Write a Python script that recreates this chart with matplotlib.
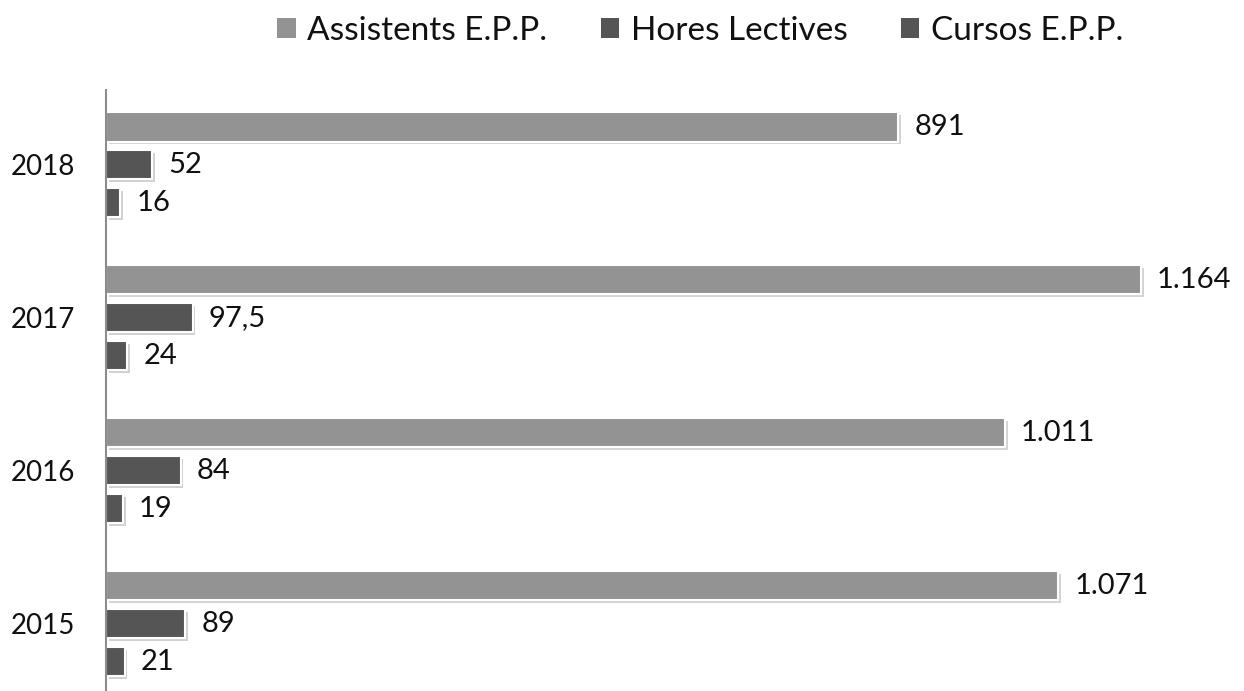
import numpy as np
import matplotlib.pyplot as plt
import matplotlib.patheffects as pe

# Dades del gràfic
anys = ['2015', '2016', '2017', '2018']
assistents = [1071, 1011, 1164, 891]
hores = [89, 84, 97.5, 52]
cursos = [21, 19, 24, 16]

etiquetes_assistents = ['1.071', '1.011', '1.164', '891']
etiquetes_hores = ['89', '84', '97,5', '52']
etiquetes_cursos = ['21', '19', '24', '16']

plt.rcParams['font.family'] = ['Lato', 'DejaVu Sans']

fig = plt.figure(figsize=(12.44, 6.91), dpi=100)
ax = fig.add_axes([106 / 1244, 0.0, 1 - 106 / 1244, 1 - 90 / 691])

y = np.arange(len(anys))
h = 0.19
d = 0.248
ombra = [pe.SimplePatchShadow(offset=(2, -2), alpha=0.2), pe.Normal()]

series = [
    (assistents, etiquetes_assistents, '#939393', y + d, 'Assistents E.P.P.'),
    (hores, etiquetes_hores, '#555555', y, 'Hores Lectives'),
    (cursos, etiquetes_cursos, '#555555', y - d, 'Cursos E.P.P.'),
]

for vals, labels, color, pos, nom in series:
    bars = ax.barh(pos, vals, height=h, color=color, edgecolor='white',
                   linewidth=1.5, label=nom)
    for b in bars:
        b.set_path_effects(ombra)
    for v, p, t in zip(vals, pos, labels):
        ax.text(v + 18, p, t, va='center', ha='left', fontsize=21, color='#111111')

ax.set_xlim(0, 1280)
ax.set_ylim(-0.44, 3.49)
ax.set_yticks(y)
ax.set_yticklabels(anys, fontsize=20, color='#111111')
ax.tick_params(axis='y', length=0, pad=22)
ax.set_xticks([])
for s in ['top', 'right', 'bottom']:
    ax.spines[s].set_visible(False)
ax.spines['left'].set_color('#8c8c8c')
ax.spines['left'].set_linewidth(1.5)

leg = fig.legend(loc='center', bbox_to_anchor=(0.563, 0.955), ncol=3, frameon=False,
                 fontsize=24, handlelength=0.55, handleheight=0.55, handletextpad=0.35,
                 columnspacing=1.6, labelcolor='#111111')
for hnd in leg.legend_handles:
    hnd.set_path_effects([])
    hnd.set_linewidth(0)

fig.savefig('out.png', dpi=100)
